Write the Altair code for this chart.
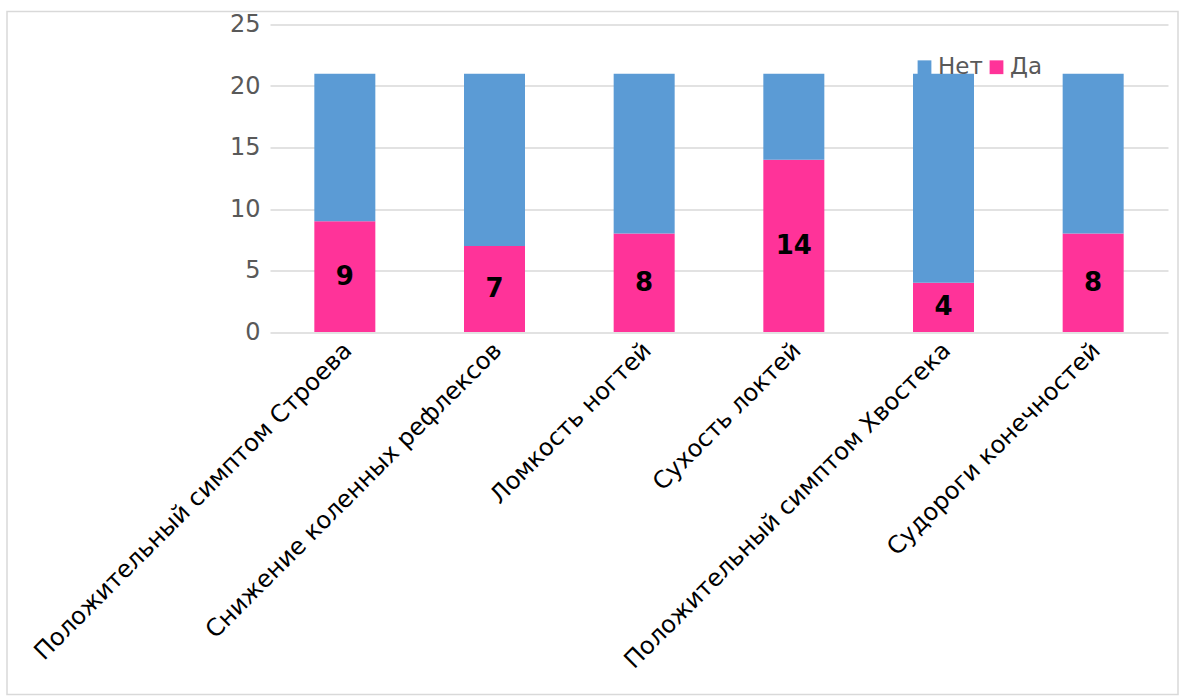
import altair as alt
import pandas as pd

categories = ["Положительный симптом Строева", "Снижение коленных рефлексов", "Ломкость ногтей",
              "Сухость локтей", "Положительный симптом Хвостека", "Судороги конечностей"]
da = [9, 7, 8, 14, 4, 8]
net = [12, 14, 13, 7, 17, 13]
series = ["Нет", "Да"]
colors = ["#5B9BD5", "#FF3399"]

rows = []
for c, d, n in zip(categories, da, net):
    rows.append({"cat": c, "series": "Да", "value": d, "order": 0})
    rows.append({"cat": c, "series": "Нет", "value": n, "order": 1})
df = pd.DataFrame(rows)
df_da = pd.DataFrame({"cat": categories, "value": da, "mid": [v / 2 for v in da]})

FONT = "DejaVu Sans"
W, H = 898, 307.5

xscale = alt.Scale(domain=categories, paddingInner=0.59, paddingOuter=0.295)
yscale = alt.Scale(domain=[0, 25], nice=False)

border = alt.Chart(pd.DataFrame({"a": [0]})).mark_rect(
    fillOpacity=0, stroke="#D9D9D9", strokeWidth=1.5, clip=False
).encode(x=alt.value(-263), x2=alt.value(908), y=alt.value(-13), y2=alt.value(670))

bars = alt.Chart(df).mark_bar(size=61).encode(
    x=alt.X("cat:N", scale=xscale, sort=categories,
            axis=alt.Axis(title=None, labelAngle=-45, labelFont=FONT, labelFontSize=24,
                          labelColor="#000000", ticks=False, domain=False, grid=False,
                          labelPadding=6, labelLimit=0, labelOffset=-5)),
    y=alt.Y("value:Q", stack="zero", scale=yscale,
            axis=alt.Axis(title=None, values=[0, 5, 10, 15, 20, 25], labelFont=FONT,
                          labelFontSize=24, labelColor="#595959", ticks=False, domain=False,
                          gridColor="#D9D9D9", gridWidth=1.5, labelPadding=10)),
    color=alt.Color("series:N", scale=alt.Scale(domain=series, range=colors),
                    legend=alt.Legend(title=None, orient="none", legendX=643, legendY=31,
                                      direction="horizontal", symbolType="square",
                                      symbolSize=190, labelFont=FONT, labelFontSize=23,
                                      labelColor="#595959", columnPadding=2,
                                      symbolOffset=0, labelOffset=2)),
    order=alt.Order("order:Q"),
)

labels = alt.Chart(df_da).mark_text(font=FONT, fontSize=26, fontWeight="bold", color="#000000").encode(
    x=alt.X("cat:N", scale=xscale, sort=categories),
    y=alt.Y("mid:Q", scale=yscale),
    text=alt.Text("value:Q"),
)

chart = alt.layer(border, bars, labels).properties(
    width=W, height=H,
    autosize=alt.AutoSizeParams(type="none"),
    padding={"left": 270, "top": 24.5, "right": 13, "bottom": 365},
).configure(background="white").configure_view(stroke=None)

chart.save("out.html", embed_options={"renderer": "svg", "actions": False})
